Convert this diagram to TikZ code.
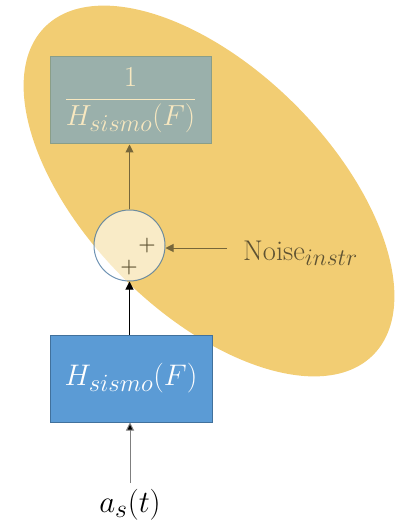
\documentclass[tikz,border=0pt]{standalone}
\usepackage{graphicx}
\usetikzlibrary{arrows.meta,shapes.geometric}
\definecolor{ellfill}{HTML}{F2CD73}
\definecolor{topfill}{HTML}{9AB0AB}
\definecolor{topdraw}{HTML}{8A9E88}
\definecolor{creamtxt}{HTML}{F8E8C0}
\definecolor{blufill}{HTML}{5B9BD5}
\definecolor{bludraw}{HTML}{41719C}
\definecolor{olive}{HTML}{5E5232}
\definecolor{olivearr}{HTML}{76663A}
\definecolor{grayline}{HTML}{7F7F7F}
\tikzset{
  tipA/.tip={Triangle[length=8bp,width=8bp]},
  topbox/.style={rectangle, fill=topfill, draw=topdraw, line width=1bp, minimum width=161bp, minimum height=87bp, inner sep=0pt, text=creamtxt},
  botbox/.style={rectangle, fill=blufill, draw=bludraw, line width=1bp, minimum width=162bp, minimum height=87bp, inner sep=0pt, text=white},
  sumnode/.style={circle, fill=white, fill opacity=0.6, text opacity=1, draw=bludraw, draw opacity=0.75, line width=1bp, minimum size=71bp, inner sep=0pt},
  plusnode/.style={inner sep=0pt, text=olive, font=\fontsize{24.88}{26}\selectfont\bfseries},
  bigtxt/.style={font=\fontsize{24.88}{28}\selectfont},
  arr/.style={-{tipA}, line width=1bp}
}
\begin{document}
\begin{tikzpicture}[x=1bp,y=-1bp]
\useasboundingbox (0,0) rectangle (403,526);
\fill[ellfill, rotate around={-45:(209,191)}] (209,191) ellipse [x radius=232, y radius=122];
\node[topbox, bigtxt] (inv) at (130.5,100.5) {\scalebox{1.17}{$\displaystyle\frac{1}{H_{sismo}(F)}$}};
\node[sumnode] (sum) at (129.5,245.5) {};
\node[plusnode] (p1) at (147,246) {\scalebox{0.8}{+}};
\node[plusnode] (p2) at (129,268) {\scalebox{0.8}{+}};
\node[anchor=base west, text=olive, bigtxt, inner sep=0pt] (noise) at (243,260) {\scalebox{1.15}{Noise$_{instr}$}};
\node[botbox, bigtxt] (hs) at (131,378.5) {\scalebox{1.2}{$H_{sismo}(F)$}};
\node[bigtxt, inner sep=0pt] (as) at (130,505) {\scalebox{1.25}{$a_s(t)$}};
\coordinate (nstart) at (227,248);
\coordinate (astart) at (130,483);
\draw[arr, draw=olivearr, -{tipA[fill=olivearr]}] (sum.north) -- (sum.north |- inv.south);
\draw[arr, draw=olivearr, -{tipA[fill=olivearr]}] (nstart) -- (sum.east |- nstart);
\draw[arr, draw=black] (hs.north -| sum.south) -- (sum.south);
\draw[arr, draw=grayline, -{tipA[fill=black]}] (astart) -- (astart |- hs.south);
\end{tikzpicture}
\end{document}
